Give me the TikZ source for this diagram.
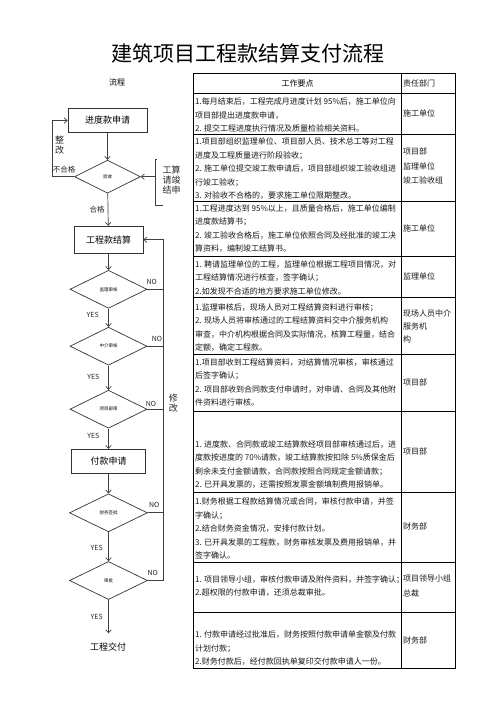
\documentclass[tikz,border=0pt]{standalone}
\usepackage{fontspec}
\setmainfont{Noto Sans CJK SC}
\usetikzlibrary{arrows.meta,shapes.geometric}
\tikzset{
  flow/.style={draw=black!75, line width=0.7pt, -{Straight Barb[length=3pt,width=5.5pt]}},
  link/.style={draw=black!75, line width=0.7pt},
  proc/.style={draw=black!80, line width=0.8pt, inner sep=0pt, font=\fontsize{9}{9}\selectfont},
  dec/.style={diamond, draw=black!80, line width=0.7pt, inner sep=0pt, font=\fontsize{4.5}{4.5}\selectfont},
  tag/.style={font=\fontsize{7}{7}\selectfont, inner sep=0pt, text=black!85},
  note/.style={font=\fontsize{9}{10}\selectfont, inner sep=0pt, align=center, text=black!85},
  cell/.style={font=\fontsize{8}{13.5}\selectfont, inner sep=0pt, anchor=west, align=left, text=black!90},
  rule/.style={draw=black, line width=0.9pt},
}
\begin{document}
\begin{tikzpicture}[x=1pt, y=-1pt]
  \useasboundingbox[fill=white] (0,0) rectangle (496,702);

  % title and headers
  \node[font=\fontsize{21}{21}\selectfont, inner sep=0pt] (title) at (248,53) {建筑项目工程款结算支付流程};
  \node[font=\fontsize{8}{8}\selectfont, inner sep=0pt] (hflow) at (117,82) {流程};

  % table grid
  \draw[rule] (193.3,73) rectangle (455,668.3);
  \draw[rule] (401.7,73) -- (401.7,668.3);
  \foreach \y in {93,134.3,201.7,256.7,297.3,354.3,411,492.3,562.3,612.3}
    \draw[rule] (193.3,\y) -- (455,\y);

  \node[font=\fontsize{8}{8}\selectfont, inner sep=0pt] (hkey) at (297.5,83) {工作要点};
  \node[cell] (hdept) at (403,83) {责任部门};

  % work points
  \node[cell] (k1) at (195,115) {1.每月结束后，工程完成月进度计划 95\%后，施工单位向\\项目部提出进度款申请，\\2. 提交工程进度执行情况及质量检验相关资料。};
  \node[cell] (k2) at (195,169) {1.项目部组织监理单位、项目部人员、技术总工等对工程\\进度及工程质量进行阶段验收；\\2. 施工单位提交竣工款申请后，项目部组织竣工验收组进\\行竣工验收；\\3. 对验收不合格的，要求施工单位限期整改。};
  \node[cell] (k3) at (195,228.5) {1.工程进度达到 95\%以上，且质量合格后，施工单位编制\\进度款结算书；\\2. 竣工验收合格后，施工单位依照合同及经批准的竣工决\\算资料，编制竣工结算书。};
  \node[cell] (k4) at (195,277.5) {1. 聘请监理单位的工程，监理单位根据工程项目情况，对\\工程结算情况进行核查，签字确认；\\2.如发现不合适的地方要求施工单位修改。};
  \node[cell] (k5) at (195,327.5) {1.监理审核后，现场人员对工程结算资料进行审核；\\2. 现场人员将审核通过的工程结算资料交中介服务机构\\审查，中介机构根据合同及实际情况，核算工程量，结合\\定额，确定工程款。};
  \node[cell] (k6) at (195,382.5) {1.项目部收到工程结算资料，对结算情况审核，审核通过\\后签字确认；\\2. 项目部收到合同款支付申请时，对申请、合同及其他附\\件资料进行审核。};
  \node[cell] (k7) at (195,464.5) {1. 进度款、合同款或竣工结算款经项目部审核通过后，进\\度款按进度的 70\%请款，竣工结算款按扣除 5\%质保金后\\剩余未支付金额请款，合同款按照合同规定金额请款；\\2. 已开具发票的，还需按照发票金额填制费用报销单。};
  \node[cell] (k8) at (195,528.5) {1.财务根据工程款结算情况或合同，审核付款申请，并签\\字确认；\\2.结合财务资金情况，安排付款计划。\\3. 已开具发票的工程款，财务审核发票及费用报销单，并\\签字确认。};
  \node[cell] (k9) at (195,586) {1. 项目领导小组，审核付款申请及附件资料，并签字确认；\\2.超权限的付款申请，还须总裁审批。};
  \node[cell] (k10) at (195,648.5) {1. 付款申请经过批准后，财务按照付款申请单金额及付款\\计划付款；\\2.财务付款后，经付款回执单复印交付款申请人一份。};

  % departments
  \node[cell] (d1) at (403,113.7) {施工单位};
  \node[cell, font=\fontsize{8}{14.2}\selectfont] (d2) at (403,166) {项目部\\监理单位\\竣工验收组};
  \node[cell] (d3) at (403,228) {施工单位};
  \node[cell] (d4) at (403,276) {监理单位};
  \node[cell, font=\fontsize{8}{13}\selectfont] (d5) at (403,326) {现场人员中介\\服务机\\构};
  \node[cell] (d6) at (403,382.7) {项目部};
  \node[cell] (d7) at (403,451) {项目部};
  \node[cell] (d8) at (403,526.7) {财务部};
  \node[cell, font=\fontsize{8}{15.5}\selectfont] (d9) at (403,586) {项目领导小组\\总裁};
  \node[cell] (d10) at (403,640) {财务部};

  % flow chart
  \node[proc, minimum width=79pt, minimum height=24pt] (apply) at (107.5,120.5) {进度款申请};
  \node[dec, minimum width=66pt, minimum height=33pt] (accept) at (107.5,176.7) {验收};
  \node[proc, minimum width=69pt, minimum height=27pt] (settle) at (108.5,239.7) {工程款结算};
  \node[dec, minimum width=77pt, minimum height=38pt] (super) at (108.5,289.3) {监理审核};
  \node[dec, minimum width=77pt, minimum height=38pt] (agent) at (108.5,346.2) {中介审核};
  \node[dec, minimum width=77pt, minimum height=38pt] (dept) at (108.5,409.2) {项目部审};
  \node[proc, minimum width=74pt, minimum height=24pt] (payreq) at (108.5,461.3) {付款申请};
  \node[dec, minimum width=78pt, minimum height=38pt] (finance) at (108.5,512.8) {财务签批};
  \node[dec, minimum width=78pt, minimum height=38pt] (approve) at (108.5,580.5) {审批};
  \coordinate (finish) at (108.5,633.3);
  \node[font=\fontsize{9}{9}\selectfont, inner sep=0pt] (deliver) at (108,646.7) {工程交付};

  \draw[flow] (apply) -- (accept);
  \draw[flow] (accept) -- (settle);
  \draw[flow] (settle) -- (super);
  \draw[flow] (super) -- (agent);
  \draw[flow] (agent) -- (dept);
  \draw[flow] (dept) -- (payreq);
  \draw[flow] (payreq) -- (finance);
  \draw[flow] (finance) -- (approve);
  \draw[flow] (approve) -- (finish);

  % rework loop
  \coordinate (loopx) at (52.3,0);
  \draw[flow] (accept.west) -- (accept.west -| loopx) |- (apply.west);
  \node[tag, font=\fontsize{7.5}{7.5}\selectfont] (fail) at (64,169.3) {不合格};
  \node[note] (rework) at (59.5,145) {整\\改};
  \node[tag, font=\fontsize{7.5}{7.5}\selectfont] (pass) at (97,210) {合格};

  % completion request bracket
  \coordinate (brtop) at (155.7,159.3);
  \coordinate (brbot) at (155.7,205.7);
  \draw[link] ([xshift=1.5pt]brtop) -- (brtop) -- (brbot) -- ([xshift=7.5pt]brbot);
  \draw[flow] (brtop |- accept.east) -- (accept.east);
  \node[note] (request) at (171.5,180) {工算\\请竣\\结申};

  % revision loop
  \coordinate (back) at (163.3,239.7);
  \foreach \d in {super,agent,dept,finance}
    \draw[link] (\d.east) -- (\d.east -| back);
  \draw[flow] (approve.east) -- (approve.east -| back) -- (back) -- (settle.east);
  \node[note] (revise) at (173.3,403.5) {修\\改};

  % labels
  \foreach \x/\y in {151.7/281.7,157/339.3,151/404,154.3/505,152.7/573.3}
    \node[tag] at (\x,\y) {NO};
  \foreach \x/\y in {92.7/315,93.3/376.7,93.3/435.7,96.7/547.7,96.7/616.7}
    \node[tag] at (\x,\y) {YES};
\end{tikzpicture}
\end{document}
